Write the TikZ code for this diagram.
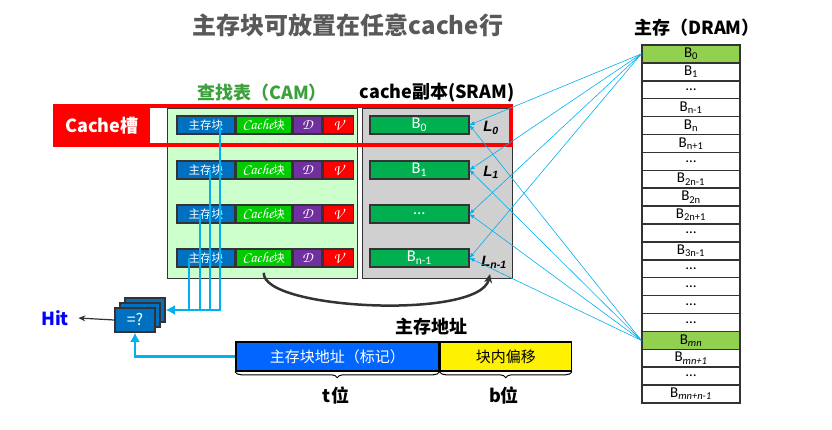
\documentclass[tikz,border=0pt]{standalone}
\usepackage[T1]{fontenc}
\usepackage{fontspec}
\setmainfont{Noto Sans CJK SC}
\newfontfamily\calfont{Carlito}
\newfontfamily\arialfont{Liberation Sans}
\usetikzlibrary{positioning,arrows.meta,decorations.pathreplacing}

\definecolor{camgreen}{RGB}{204,255,204}
\definecolor{sramgray}{RGB}{208,208,208}
\definecolor{tagblue}{RGB}{0,112,192}
\definecolor{blkgreen}{RGB}{0,204,0}
\definecolor{dpurple}{RGB}{112,48,160}
\definecolor{linegreen}{RGB}{0,176,80}
\definecolor{wire}{RGB}{0,176,240}
\definecolor{edgegray}{RGB}{51,51,51}
\definecolor{memgreen}{RGB}{146,208,80}
\definecolor{addrblue}{RGB}{0,102,255}
\definecolor{titlegray}{RGB}{89,89,89}
\definecolor{camtitle}{RGB}{60,160,60}

\newcommand{\scrtext}[1]{{\fontencoding{T1}\fontfamily{pzc}\fontseries{mb}\fontshape{it}\fontsize{15}{16}\selectfont #1}}

\tikzset{
  field/.style={draw=edgegray, line width=1.5pt, minimum height=18, inner sep=0pt,
    text=white, font=\fontsize{11.5}{13}\selectfont},
  sramline/.style={draw=edgegray, line width=1.5pt, fill=linegreen, minimum width=99,
    minimum height=18, inner sep=0pt, anchor=west, text=white, font=\calfont\fontsize{16.5}{17}\selectfont},
  memcell/.style={draw=edgegray, line width=1.5pt, minimum width=98, minimum height=17.9,
    inner sep=0pt, font=\calfont\fontsize{15}{15}\selectfont},
  panel/.style={draw=edgegray, line width=0.8pt, minimum height=170},
  heading/.style={font=\bfseries\fontsize{18}{21}\selectfont},
  linelabel/.style={font=\arialfont\bfseries\itshape\fontsize{15}{17}\selectfont},
  tagwire/.style={draw=wire, line width=2.5pt},
  mapwire/.style={draw=wire, line width=0.6pt, -{Latex[length=5pt,width=4pt]}},
  cmpbox/.style={draw=edgegray, line width=1.5pt, fill=tagblue, minimum width=40,
    minimum height=24, inner sep=0pt, text=white, font=\fontsize{16}{18}\selectfont},
  addrfield/.style={draw=black, line width=1.5pt, minimum height=29, inner sep=0pt,
    font=\fontsize{15}{17}\selectfont},
  bitlabel/.style={font=\bfseries\fontsize{18}{21}\selectfont}
}

\begin{document}
\begin{tikzpicture}[x=1pt, y=-1pt]
  \useasboundingbox (0,0) rectangle (832,430);

  % titles
  \node[font=\bfseries\fontsize{24}{28}\selectfont, text=titlegray] (title) at (348,25) {主存块可放置在任意cache行};
  \node[heading, text=camtitle] (camhead) at (262,93) {查找表（CAM）};
  \node[heading] (sramhead) at (437,93) {cache副本(SRAM)};
  \node[heading] (memhead) at (697,28) {主存（DRAM）};

  % CAM and SRAM panels
  \node[panel, fill=camgreen, minimum width=190] (cam) at (262,193) {};
  \node[panel, fill=sramgray, minimum width=150] (sram) at (437,193) {};

  \foreach \i/\y/\txt in {1/125/B\textsubscript{0}, 2/170/B\textsubscript{1}, 3/214/\ldots, 4/258/B\textsubscript{n-1}} {
    \node[field, fill=tagblue, minimum width=58, anchor=west] (tag\i) at (176,\y) {主存块};
    \node[field, fill=blkgreen, minimum width=55] (blk\i) [right=0pt of tag\i] {\scrtext{Cache}块};
    \node[field, fill=dpurple, minimum width=29] (dbit\i) [right=0pt of blk\i] {\scrtext{D}};
    \node[field, fill=red, minimum width=30] (vbit\i) [right=0pt of dbit\i] {\scrtext{V}};
    \node[sramline] (line\i) at (369,\y) {\txt};
  }
  \node[linelabel] (l0) at (491,128) {L\textsubscript{0}};
  \node[linelabel] (l1) at (491,172) {L\textsubscript{1}};
  \node[linelabel] (ln) at (494,262) {L\textsubscript{n-1}};

  % cache slot
  \node[draw=red, line width=4pt, minimum width=456, minimum height=39] (slot) at (283,125.5) {};
  \node[fill=red, text=white, minimum width=97, minimum height=39, inner sep=0pt,
    font=\bfseries\fontsize{18}{21}\selectfont, anchor=west] (slotlab) at (slot.west) {Cache槽};

  % any line of the CAM
  \coordinate (arcend) at (490,274);
  \draw[edgegray, line width=2.5pt, -{Stealth[length=9pt,width=8pt]}]
    ([yshift=-5pt]blk4.south) .. controls (262,310) and (480,320) .. (arcend);

  % comparator
  \node[cmpbox] (cmp3) at (145,310) {};
  \node[cmpbox] (cmp2) at (140,315) {};
  \node[cmpbox] (cmp1) at (135,320) {=?};
  \node[text=blue, font=\bfseries\fontsize{18}{21}\selectfont] (hit) at (55,318) {Hit};
  \draw[edgegray, line width=1.2pt, -{Stealth[length=7pt,width=6pt]}] (cmp1.west) -- ([xshift=6pt]hit.east);

  \draw[tagwire] ([xshift=4pt]tag2.center) -- ([xshift=4pt]tag2.center |- cmp3.east);
  \draw[tagwire] ([xshift=-6pt]tag3.center) -- ([xshift=-6pt]tag3.center |- cmp3.east);
  \draw[tagwire] ([xshift=-17pt]tag4.center) -- ([xshift=-17pt]tag4.center |- cmp3.east);
  \draw[tagwire, -{Latex[length=9pt,width=10pt]}] ([xshift=14pt]tag1.center) |- (cmp3.east);

  % main memory address
  \node[bitlabel] (addrhead) at (431,327) {主存地址};
  \node[addrfield, fill=addrblue, text=white, minimum width=203, anchor=west] (tagaddr) at (235,356.5) {主存块地址（标记）};
  \node[addrfield, fill=yellow, minimum width=131] (offaddr) [right=0pt of tagaddr] {块内偏移};
  \draw[line width=1pt, decorate, decoration={brace, mirror, amplitude=6pt}]
    (tagaddr.south west) -- (tagaddr.south east);
  \draw[line width=1pt, decorate, decoration={brace, mirror, amplitude=6pt}]
    (offaddr.south west) -- (offaddr.south east);
  \node[bitlabel] (tbits) at (336,395) {t位};
  \node[bitlabel] (bbits) at (504,395) {b位};
  \draw[tagwire, -{Latex[length=9pt,width=10pt]}] (tagaddr.west) -| (cmp1.south);

  % main memory
  \foreach \lab/\fil [count=\k] in {B\textsubscript{0}/memgreen, B\textsubscript{1}/white, \ldots/white,
      B\textsubscript{n-1}/white, B\textsubscript{n}/white, B\textsubscript{n+1}/white, \ldots/white,
      B\textsubscript{2n-1}/white, B\textsubscript{2n}/white, B\textsubscript{2n+1}/white, \ldots/white,
      B\textsubscript{3n-1}/white, \ldots/white, \ldots/white, \ldots/white, \ldots/white,
      B\textsubscript{\textit{mn}}/memgreen, B\textsubscript{\textit{mn+1}}/white, \ldots/white,
      B\textsubscript{\textit{mn+n-1}}/white} {
    \node[memcell, fill=\fil] (m\k) at (691,{45+17.9*(\k-0.5)}) {\lab};
  }

  % block to line mapping
  \foreach \i in {1,...,4} {
    \draw[mapwire] (m1.west) -- (line\i.east);
    \draw[mapwire] (m17.west) -- (line\i.east);
  }
\end{tikzpicture}
\end{document}
